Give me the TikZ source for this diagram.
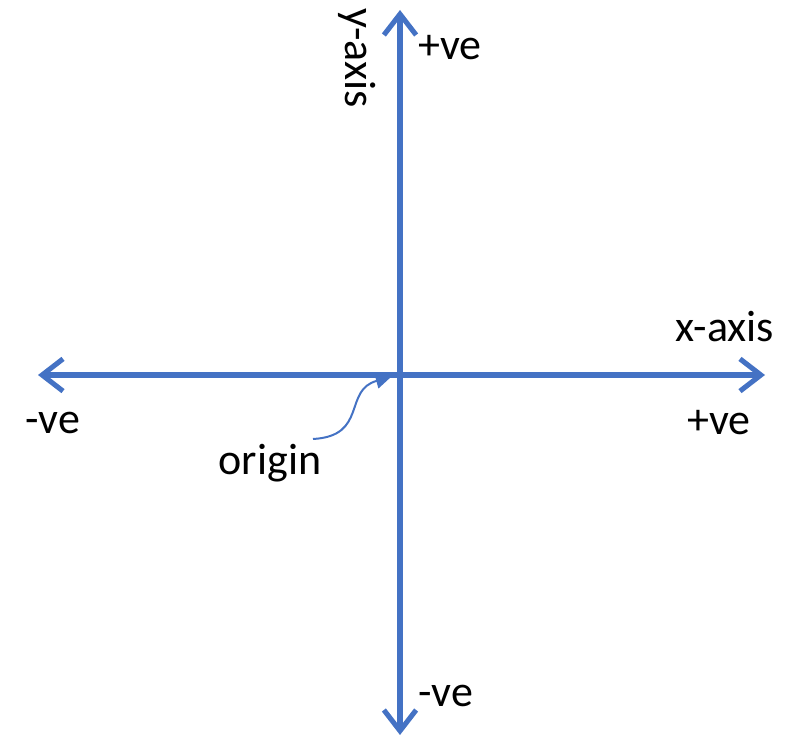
\documentclass[tikz,border=0pt]{standalone}
\usepackage{fontspec}
\setmainfont{Carlito}
\usetikzlibrary{arrows.meta,positioning}
\definecolor{axisblue}{RGB}{68,114,196}

\begin{document}
\begin{tikzpicture}[x=0.75pt,y=-0.75pt,font=\fontsize{33}{38}\selectfont,
  axis/.style={axisblue,line width=3.8pt,line cap=round,{Straight Barb[length=5.5mm,width=8.5mm,line width=3.8pt]}-{Straight Barb[length=5.5mm,width=8.5mm,line width=3.8pt]}},
  pointer/.style={axisblue,line width=1.5pt,-{Triangle[length=4mm,width=4mm]}},
  lbl/.style={inner sep=0pt}]
 \useasboundingbox (0,0) rectangle (789,738);
 % axes
 \coordinate (xl) at (38,375);
 \coordinate (xr) at (765,375);
 \coordinate (yt) at (400,10);
 \coordinate (yb) at (400,735);
 \coordinate (O) at (400,375);
 \draw[axis] (xl) -- (xr);
 \draw[axis] (yb) -- (yt);
 % labels
 \node[lbl,rotate=-90] (ylabel) at (357,58) {y-axis};
 \node[lbl] (ytop) at (450,48) {+ve};
 \node[lbl] (xlabel) at (725,327) {x-axis};
 \node[lbl] (xneg) at (53,423) {-ve};
 \node[lbl] (xpos) at (719,423) {+ve};
 \node[lbl] (ybot) at (446,696) {-ve};
 \node[lbl] (lorigin) at (270,463) {origin};
 % origin pointer
 \coordinate (ostart) at (313,439);
 \coordinate (otip) at (391,377);
 \draw[pointer] (ostart) .. controls (368,436) and (343,390) .. (otip);
\end{tikzpicture}
\end{document}
